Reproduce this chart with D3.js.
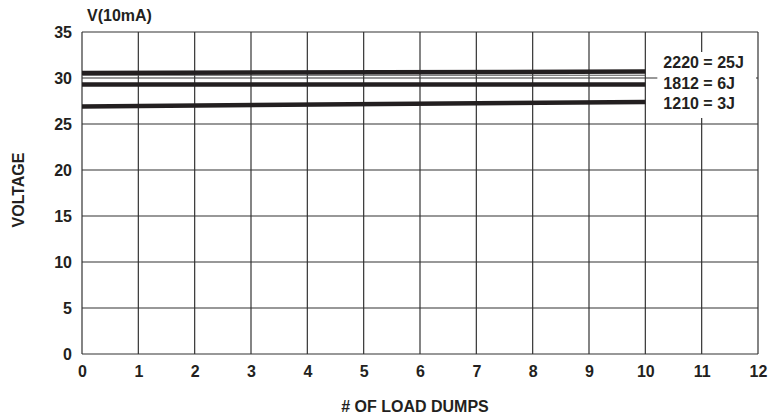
<!DOCTYPE html>
<html>
<head>
<meta charset="utf-8">
<script src="https://cdn.jsdelivr.net/npm/d3@7"></script>
<style>
body { margin: 0; background: #fff; }
text { font-family: "Liberation Sans", Arial, sans-serif; font-weight: bold; fill: #231f20; }
</style>
</head>
<body>
<div id="chart"></div>
<script>
// values
var dumps = [0, 10];
var v2220 = [30.55, 30.7];
var v1812 = [29.3, 29.3];
var v1210 = [26.9, 27.4];
var vThin = [30.3, 30.3];
var legendLabels = ["2220 = 25J", "1812 = 6J", "1210 = 3J"];
var xTicks = [0, 1, 2, 3, 4, 5, 6, 7, 8, 9, 10, 11, 12];
var yTicks = [0, 5, 10, 15, 20, 25, 30, 35];

var margin = {top: 32, right: 10, bottom: 65, left: 82},
    width = 768 - margin.left - margin.right,
    height = 419 - margin.top - margin.bottom;

var svg = d3.select("#chart")
  .append("svg")
    .attr("width", 768)
    .attr("height", 419)
  .append("g")
    .attr("transform", "translate(" + margin.left + "," + margin.top + ")");

var x = d3.scaleLinear().domain([0, 12]).range([0, width]);
var y = d3.scaleLinear().domain([0, 35]).range([height, 0]);

// grid
svg.selectAll(".vgrid")
  .data(xTicks)
  .enter().append("line")
    .attr("x1", function(d) { return x(d); })
    .attr("x2", function(d) { return x(d); })
    .attr("y1", 0).attr("y2", height)
    .style("stroke", "#333").style("stroke-width", 1.2);

svg.selectAll(".hgrid")
  .data(yTicks)
  .enter().append("line")
    .attr("x1", 0).attr("x2", width)
    .attr("y1", function(d) { return y(d); })
    .attr("y2", function(d) { return y(d); })
    .style("stroke", "#333").style("stroke-width", 1.2);

// axes (labels only)
var xAxis = svg.append("g")
  .attr("transform", "translate(0," + height + ")")
  .call(d3.axisBottom(x).tickValues(xTicks).tickSize(0).tickPadding(12));
xAxis.select(".domain").remove();
xAxis.selectAll("text").style("font-size", "16px");

var yAxis = svg.append("g")
  .call(d3.axisLeft(y).tickValues(yTicks).tickSize(0).tickPadding(10));
yAxis.select(".domain").remove();
yAxis.selectAll("text").style("font-size", "16px");

// legend box background
svg.append("rect")
  .attr("x", x(10) + 12)
  .attr("y", 20)
  .attr("width", x(12) - x(10) - 14)
  .attr("height", 66)
  .style("fill", "#fff");

// data lines
var line = d3.line()
  .x(function(d, i) { return x(dumps[i]); })
  .y(function(d) { return y(d); });

svg.append("path").datum(vThin).attr("d", line)
  .style("fill", "none").style("stroke", "#555").style("stroke-width", 1);

[v2220, v1812, v1210].forEach(function(s) {
  svg.append("path").datum(s).attr("d", line)
    .style("fill", "none").style("stroke", "#231f20").style("stroke-width", 4.5);
});

// legend
svg.selectAll(".leg")
  .data(legendLabels)
  .enter().append("text")
    .attr("x", x(10) + 18)
    .attr("y", function(d, i) { return 36 + i * 20.5; })
    .style("font-size", "16px")
    .text(function(d) { return d; });

// titles
svg.append("text")
  .attr("x", 5).attr("y", -11)
  .style("font-size", "16px")
  .text("V(10mA)");

svg.append("text")
  .attr("x", width / 2 - 5).attr("y", height + 58)
  .attr("text-anchor", "middle")
  .style("font-size", "16px")
  .text("# OF LOAD DUMPS");

svg.append("text")
  .attr("transform", "translate(" + (-58) + "," + 158 + ") rotate(-90)")
  .attr("text-anchor", "middle")
  .style("font-size", "16px")
  .text("VOLTAGE");
</script>
</body>
</html>
